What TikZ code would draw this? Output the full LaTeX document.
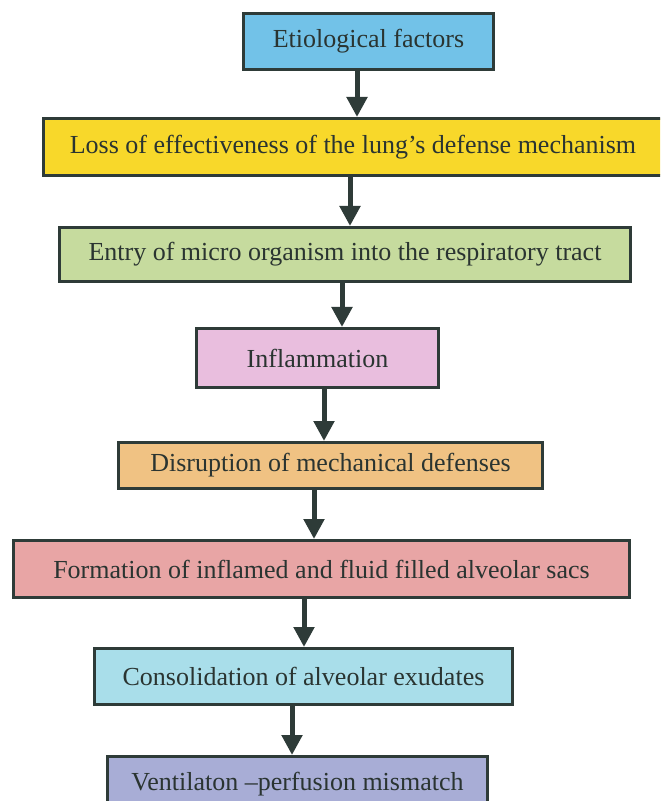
\documentclass[tikz,border=0pt]{standalone}
\usepackage{fontspec}
\setmainfont{Liberation Serif}
\usetikzlibrary{arrows.meta}

\definecolor{inkline}{HTML}{2E3B38}
\definecolor{inktext}{HTML}{2A3431}
\definecolor{cEtio}{HTML}{72C2E8}
\definecolor{cLoss}{HTML}{F8D82A}
\definecolor{cEntry}{HTML}{C6DB9E}
\definecolor{cInfl}{HTML}{E9BEDE}
\definecolor{cDisr}{HTML}{F0C283}
\definecolor{cForm}{HTML}{E8A5A5}
\definecolor{cCons}{HTML}{A9DEEA}
\definecolor{cVent}{HTML}{A8ADD6}

\tikzset{
  flowbox/.style={draw=inkline, line width=1.5pt, inner sep=0pt,
    text=inktext, font=\fontsize{13}{15}\selectfont},
  flowarrow/.style={draw=inkline, line width=2.5pt,
    -{Triangle[width=10pt,length=10pt]}}
}

\begin{document}
\begin{tikzpicture}[x=0.5pt, y=-0.5pt]
  \useasboundingbox (0,0) rectangle (660,801);
  \clip (0,0) rectangle (660,801);

  % process steps, top to bottom
  \node[flowbox, fill=cEtio,  minimum width=125pt,   minimum height=28pt]   (n1) at (368.5,41.5) {Etiological factors};
  \node[flowbox, fill=cLoss,  minimum width=309.5pt, minimum height=28.5pt] (n2) at (353,147)    {Loss of effectiveness of the lung’s defense mechanism};
  \node[flowbox, fill=cEntry, minimum width=285.5pt, minimum height=27pt]   (n3) at (345,254.5)  {Entry of micro organism into the respiratory tract};
  \node[flowbox, fill=cInfl,  minimum width=121pt,   minimum height=29.5pt] (n4) at (317.5,358)  {Inflammation};
  \node[flowbox, fill=cDisr,  minimum width=212pt,   minimum height=23pt]   (n5) at (330.5,465.5) {Disruption of mechanical defenses};
  \node[flowbox, fill=cForm,  minimum width=308pt,   minimum height=28.5pt] (n6) at (321.5,569)  {Formation of inflamed and fluid filled alveolar sacs};
  \node[flowbox, fill=cCons,  minimum width=209pt,   minimum height=28pt]   (n7) at (303.5,676.5) {Consolidation of alveolar exudates};
  \node[flowbox, fill=cVent,  minimum width=190pt,   minimum height=28pt]   (n8) at (297.5,784.5) {Ventilaton –perfusion mismatch};

  % connecting arrows
  \draw[flowarrow] ([xshift=-5.75pt]n1.south) -- ([xshift=-5.75pt]n1.south |- n2.north);
  \draw[flowarrow] ([xshift=-1.5pt]n2.south)  -- ([xshift=-1.5pt]n2.south |- n3.north);
  \draw[flowarrow] ([xshift=-1.5pt]n3.south)  -- ([xshift=-1.5pt]n3.south |- n4.north);
  \draw[flowarrow] ([xshift=3.25pt]n4.south)  -- ([xshift=3.25pt]n4.south |- n5.north);
  \draw[flowarrow] ([xshift=-8.25pt]n5.south) -- ([xshift=-8.25pt]n5.south |- n6.north);
  \draw[flowarrow] ([xshift=-8.75pt]n6.south) -- ([xshift=-8.75pt]n6.south |- n7.north);
  \draw[flowarrow] ([xshift=-5.75pt]n7.south) -- ([xshift=-5.75pt]n7.south |- n8.north);
\end{tikzpicture}
\end{document}
